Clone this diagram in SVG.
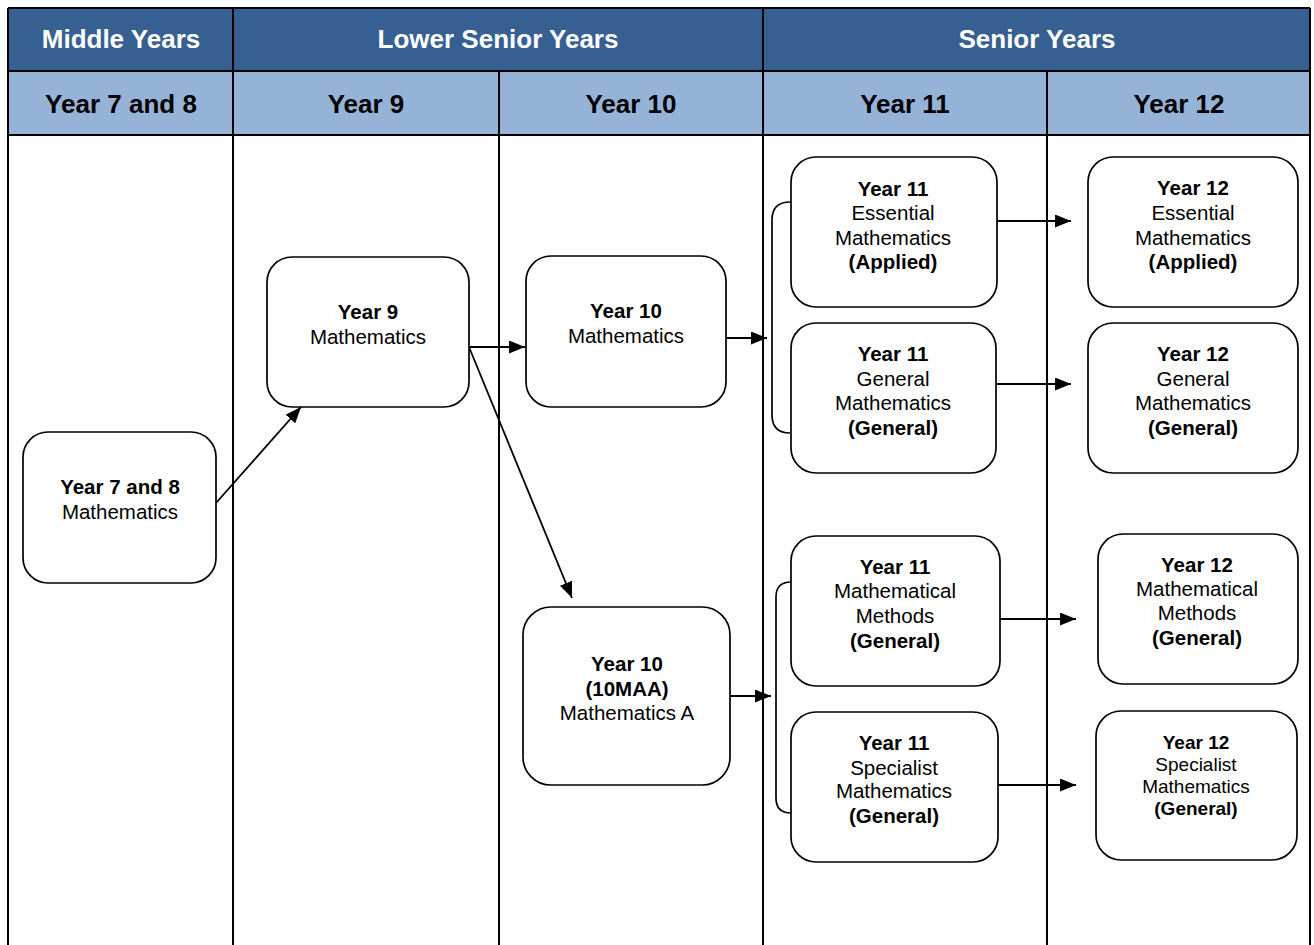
<svg xmlns="http://www.w3.org/2000/svg" width="1314" height="945" viewBox="0 0 1314 945">
  <defs>
    <marker id="arrow" markerWidth="16" markerHeight="13" refX="16" refY="6.5" orient="auto" markerUnits="userSpaceOnUse">
      <path d="M0,0 L16,6.5 L0,13 Z" fill="#000"/>
    </marker>
    <style>
      text { font-family: "Liberation Sans", Arial, sans-serif; text-anchor: middle; }
      .hd1 { font-size: 26px; font-weight: bold; fill: #ffffff; }
      .hd2 { font-size: 26px; font-weight: bold; fill: #000000; }
      .t { font-size: 20.5px; fill: #000; }
      .ts { font-size: 19px; fill: #000; }
      .b { font-weight: bold; }
      .grid { stroke: #000; stroke-width: 2; fill: none; }
      .box { fill: #fff; stroke: #000; stroke-width: 1.7; }
      .conn { stroke: #000; stroke-width: 1.7; fill: none; }
      .arr { stroke: #000; stroke-width: 1.8; fill: none; marker-end: url(#arrow); }
    </style>
  </defs>

  <rect width="1314" height="945" fill="#fff"/>

  <!-- table: stage and year header rows plus column rules -->
  <g id="table">
    <rect x="8" y="8" width="1302" height="63" fill="#366092"/>
    <rect x="8" y="71" width="1302" height="64" fill="#95B3D7"/>
    <line class="grid" x1="8" y1="8" x2="1310" y2="8"/>
    <line class="grid" x1="8" y1="71" x2="1310" y2="71"/>
    <line class="grid" x1="8" y1="135" x2="1310" y2="135"/>
    <line class="grid" x1="8" y1="8" x2="8" y2="945"/>
    <line class="grid" x1="233" y1="8" x2="233" y2="945"/>
    <line class="grid" x1="499" y1="71" x2="499" y2="945"/>
    <line class="grid" x1="763" y1="8" x2="763" y2="945"/>
    <line class="grid" x1="1047" y1="71" x2="1047" y2="945"/>
    <line class="grid" x1="1310" y1="8" x2="1310" y2="945"/>

    <text class="hd1" x="121" y="48">Middle Years</text>
    <text class="hd1" x="498" y="48">Lower Senior Years</text>
    <text class="hd1" x="1037" y="48">Senior Years</text>

    <text class="hd2" x="121" y="113">Year 7 and 8</text>
    <text class="hd2" x="366" y="113">Year 9</text>
    <text class="hd2" x="631" y="113">Year 10</text>
    <text class="hd2" x="905" y="113">Year 11</text>
    <text class="hd2" x="1179" y="113">Year 12</text>
  </g>

  <!-- connectors -->
  <g id="connectors">
    <line class="arr" x1="216" y1="503" x2="301" y2="407"/>
    <line class="arr" x1="469" y1="347" x2="525" y2="347"/>
    <line class="arr" x1="469" y1="347" x2="572" y2="598"/>
    <line class="arr" x1="726" y1="338" x2="767" y2="338"/>
    <line class="arr" x1="730" y1="696" x2="771" y2="696"/>
    <path class="conn" d="M790,202 Q772,202 772,220 L772,415 Q772,433 790,433"/>
    <path class="conn" d="M791,582 Q776,582 776,597 L776,798 Q776,813 791,813"/>
    <line class="arr" x1="997" y1="221" x2="1071" y2="221"/>
    <line class="arr" x1="995" y1="384" x2="1071" y2="384"/>
    <line class="arr" x1="1000" y1="619" x2="1076" y2="619"/>
    <line class="arr" x1="998" y1="785" x2="1076" y2="785"/>
  </g>

  <g id="y78">
    <rect class="box" x="23" y="432" width="193" height="151" rx="25"/>
    <text class="t b" x="120" y="494">Year 7 and 8</text>
    <text class="t" x="120" y="519">Mathematics</text>
  </g>

  <g id="y9">
    <rect class="box" x="267" y="257" width="202" height="150" rx="25"/>
    <text class="t b" x="368" y="319">Year 9</text>
    <text class="t" x="368" y="344">Mathematics</text>
  </g>

  <g id="y10">
    <rect class="box" x="526" y="256" width="200" height="151" rx="25"/>
    <text class="t b" x="626" y="318">Year 10</text>
    <text class="t" x="626" y="343">Mathematics</text>
  </g>

  <g id="y10maa">
    <rect class="box" x="523" y="607" width="207" height="178" rx="28"/>
    <text class="t b" x="627" y="671">Year 10</text>
    <text class="t b" x="627" y="696">(10MAA)</text>
    <text class="t" x="627" y="720">Mathematics A</text>
  </g>

  <g id="y11-essential">
    <rect class="box" x="791" y="157" width="206" height="150" rx="25"/>
    <text class="t b" x="893" y="196">Year 11</text>
    <text class="t" x="893" y="220">Essential</text>
    <text class="t" x="893" y="245">Mathematics</text>
    <text class="t b" x="893" y="269">(Applied)</text>
  </g>

  <g id="y11-general">
    <rect class="box" x="791" y="323" width="205" height="150" rx="25"/>
    <text class="t b" x="893" y="361">Year 11</text>
    <text class="t" x="893" y="386">General</text>
    <text class="t" x="893" y="410">Mathematics</text>
    <text class="t b" x="893" y="435">(General)</text>
  </g>

  <g id="y11-methods">
    <rect class="box" x="791" y="536" width="209" height="150" rx="25"/>
    <text class="t b" x="895" y="574">Year 11</text>
    <text class="t" x="895" y="598">Mathematical</text>
    <text class="t" x="895" y="623">Methods</text>
    <text class="t b" x="895" y="648">(General)</text>
  </g>

  <g id="y11-specialist">
    <rect class="box" x="791" y="712" width="207" height="150" rx="25"/>
    <text class="t b" x="894" y="750">Year 11</text>
    <text class="t" x="894" y="775">Specialist</text>
    <text class="t" x="894" y="798">Mathematics</text>
    <text class="t b" x="894" y="823">(General)</text>
  </g>

  <g id="y12-essential">
    <rect class="box" x="1088" y="157" width="210" height="150" rx="25"/>
    <text class="t b" x="1193" y="195">Year 12</text>
    <text class="t" x="1193" y="220">Essential</text>
    <text class="t" x="1193" y="245">Mathematics</text>
    <text class="t b" x="1193" y="269">(Applied)</text>
  </g>

  <g id="y12-general">
    <rect class="box" x="1088" y="323" width="210" height="150" rx="25"/>
    <text class="t b" x="1193" y="361">Year 12</text>
    <text class="t" x="1193" y="386">General</text>
    <text class="t" x="1193" y="410">Mathematics</text>
    <text class="t b" x="1193" y="435">(General)</text>
  </g>

  <g id="y12-methods">
    <rect class="box" x="1098" y="534" width="200" height="150" rx="25"/>
    <text class="t b" x="1197" y="572">Year 12</text>
    <text class="t" x="1197" y="596">Mathematical</text>
    <text class="t" x="1197" y="620">Methods</text>
    <text class="t b" x="1197" y="645">(General)</text>
  </g>

  <g id="y12-specialist">
    <rect class="box" x="1096" y="711" width="201" height="149" rx="25"/>
    <text class="ts b" x="1196" y="749">Year 12</text>
    <text class="ts" x="1196" y="771">Specialist</text>
    <text class="ts" x="1196" y="793">Mathematics</text>
    <text class="ts b" x="1196" y="815">(General)</text>
  </g>
</svg>
